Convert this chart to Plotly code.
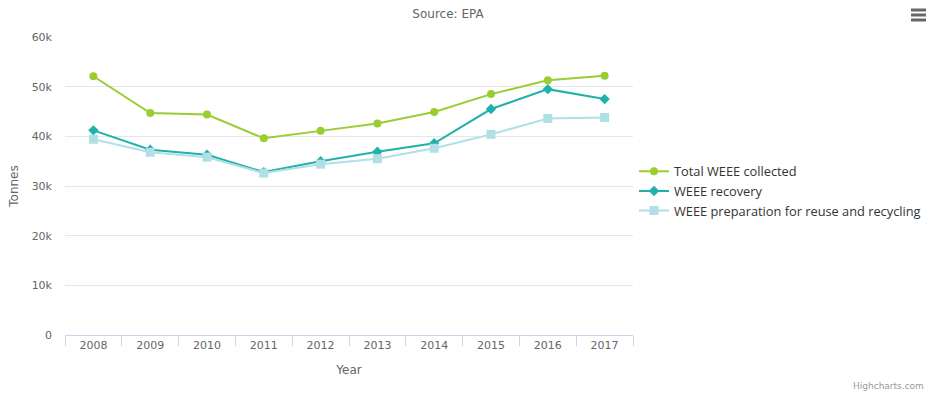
import plotly.graph_objects as go

years = ["2008", "2009", "2010", "2011", "2012", "2013", "2014", "2015", "2016", "2017"]
total_collected = [52100, 44700, 44400, 39600, 41100, 42600, 44900, 48500, 51300, 52200]
recovery = [41200, 37300, 36300, 32800, 35000, 36900, 38600, 45500, 49500, 47500]
prep_reuse = [39400, 36800, 35800, 32600, 34400, 35500, 37600, 40400, 43600, 43800]
y_ticks = [0, 10000, 20000, 30000, 40000, 50000, 60000]
y_tick_labels = ["0", "10k", "20k", "30k", "40k", "50k", "60k"]

W, H = 928, 394
fig = go.Figure()
fig.add_trace(go.Scatter(x=years, y=total_collected, name="Total WEEE collected",
                         mode="lines+markers", line=dict(color="#9ACD32", width=2),
                         marker=dict(symbol="circle", size=8, color="#9ACD32")))
fig.add_trace(go.Scatter(x=years, y=recovery, name="WEEE recovery",
                         mode="lines+markers", line=dict(color="#20B2AA", width=2),
                         marker=dict(symbol="diamond", size=8, color="#20B2AA")))
fig.add_trace(go.Scatter(x=years, y=prep_reuse, name="WEEE preparation for reuse and recycling",
                         mode="lines+markers", line=dict(color="#B0E0E6", width=2),
                         marker=dict(symbol="square", size=9, color="#B0E0E6")))

font = "DejaVu Sans, sans-serif"
fig.update_layout(
    width=W, height=H,
    margin=dict(l=65, r=W - 633, t=37, b=H - 335, autoexpand=False),
    paper_bgcolor="white", plot_bgcolor="white",
    font=dict(family=font, size=11, color="#666666"),
    title=dict(text="Source: EPA", x=448 / W, xref="container", xanchor="center",
               y=1 - 14 / H, yanchor="middle", yref="container",
               font=dict(family=font, size=12, color="#666666")),
    showlegend=True,
    legend=dict(xref="container", yref="container", x=634 / W, y=1 - 191 / H,
                xanchor="left", yanchor="middle", bgcolor="rgba(0,0,0,0)",
                font=dict(family="Open Sans, sans-serif", size=12.8, color="#333333"),
                itemwidth=30, tracegroupgap=0),
    xaxis=dict(type="category", tickson="boundaries", ticks="outside", ticklen=10,
               tickcolor="#ccd6eb", showline=True, linecolor="#ccd6eb", linewidth=1,
               showgrid=False, tickfont=dict(size=11, color="#666666"), automargin=False,
               title=dict(text="Year", font=dict(size=12, color="#666666"), standoff=14),
               range=[-0.5, 9.5]),
    yaxis=dict(range=[0, 60000], tickvals=y_ticks, ticktext=y_tick_labels,
               showgrid=True, gridcolor="#e6e6e6", zeroline=False, showline=False,
               ticks="", ticklabelstandoff=12, tickfont=dict(size=11, color="#666666"),
               automargin=False,
               title=dict(text="Tonnes", font=dict(size=12, color="#666666"), standoff=10)),
)

# Credits text
fig.add_annotation(text="Highcharts.com", xref="paper", yref="paper",
                   x=(926 - 65) / (633 - 65), y=-(386 - 335) / (335 - 37),
                   xanchor="right", yanchor="middle", showarrow=False,
                   font=dict(family=font, size=9, color="#999999"))

# Context menu icon (three bars)
for yy in (10, 15, 20):
    fig.add_shape(type="line", xref="paper", yref="paper",
                  x0=(911 - 65) / 568, x1=(926 - 65) / 568,
                  y0=(335 - yy) / 298, y1=(335 - yy) / 298,
                  line=dict(color="#666666", width=3))

fig.write_html("out.html")
